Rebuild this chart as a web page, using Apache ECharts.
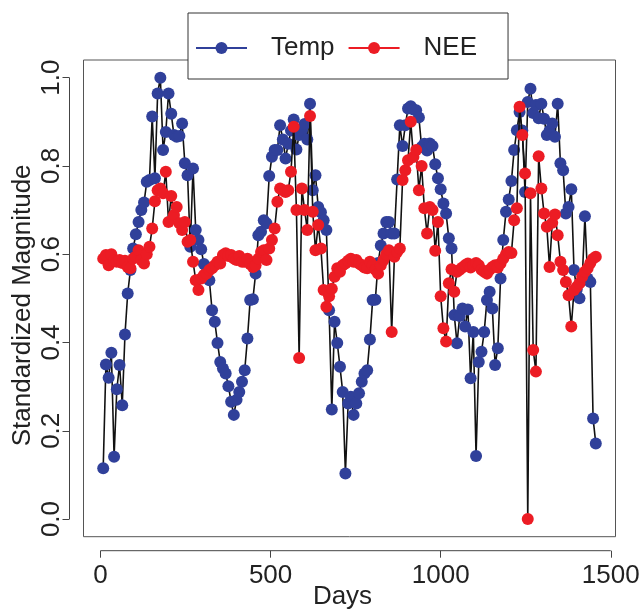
<!DOCTYPE html>
<html><head><meta charset="utf-8">
<script src="https://cdn.jsdelivr.net/npm/echarts@6/dist/echarts.min.js"></script>
<style>html,body{margin:0;padding:0;background:#fff}#c{width:640px;height:611px}</style>
</head><body><div id="c"></div>
<script>
const days = [8,16,24,32,40,48,56,64,72,80,88,96,104,112,120,128,136,144,152,160,
168,176,184,192,200,208,216,224,232,240,248,256,264,272,280,288,296,304,312,320,
328,336,344,352,360,368,376,384,392,400,408,416,424,432,440,448,456,464,472,480,
488,496,504,512,520,528,536,544,552,560,568,576,584,592,600,608,616,624,632,640,
648,656,664,672,680,688,696,704,712,720,728,736,744,752,760,768,776,784,792,800,
808,816,824,832,840,848,856,864,872,880,888,896,904,912,920,928,936,944,952,960,
968,976,984,992,1000,1008,1016,1024,1032,1040,1048,1056,1064,1072,1080,1088,1096,1104,1112,1120,
1128,1136,1144,1152,1160,1168,1176,1184,1192,1200,1208,1216,1224,1232,1240,1248,1256,1264,1272,1280,
1288,1296,1304,1312,1320,1328,1336,1344,1352,1360,1368,1376,1384,1392,1400,1408,1416,1424,1432,1440,
1448,1456];

const temp = [0.115,0.350,0.320,0.377,0.141,0.294,0.349,0.258,0.418,0.511,
0.564,0.613,0.645,0.673,0.700,0.717,0.764,0.768,0.912,0.772,
0.964,1.000,0.836,0.877,0.964,0.918,0.870,0.866,0.868,0.896,
0.806,0.779,0.617,0.794,0.655,0.632,0.611,0.578,0.571,0.541,
0.473,0.447,0.399,0.356,0.341,0.330,0.301,0.266,0.236,0.270,
0.288,0.311,0.337,0.409,0.496,0.498,0.556,0.643,0.651,0.677,
0.670,0.777,0.821,0.836,0.836,0.892,0.860,0.817,0.850,0.880,
0.905,0.837,0.870,0.881,0.895,0.860,0.941,0.745,0.779,0.707,
0.695,0.677,0.655,0.473,0.248,0.447,0.399,0.345,0.288,0.103,
0.262,0.277,0.236,0.262,0.285,0.311,0.330,0.337,0.407,0.496,
0.497,0.580,0.620,0.647,0.673,0.673,0.647,0.647,0.769,0.892,
0.845,0.892,0.930,0.935,0.928,0.926,0.910,0.843,0.850,0.835,
0.851,0.845,0.804,0.772,0.747,0.715,0.692,0.636,0.613,0.462,
0.398,0.460,0.477,0.436,0.475,0.319,0.424,0.143,0.356,0.379,
0.424,0.496,0.515,0.477,0.349,0.387,0.545,0.632,0.696,0.724,
0.766,0.836,0.881,0.922,0.880,0.741,0.945,0.975,0.920,0.938,
0.908,0.941,0.907,0.870,0.880,0.896,0.866,0.941,0.806,0.790,
0.692,0.707,0.747,0.564,0.520,0.500,0.540,0.686,0.545,0.537,
0.228,0.171];

const nee = [0.590,0.598,0.575,0.600,0.585,0.583,0.587,0.580,0.585,0.571,
0.568,0.590,0.595,0.609,0.587,0.579,0.600,0.617,0.658,0.720,
0.745,0.749,0.738,0.787,0.673,0.732,0.689,0.707,0.670,0.655,
0.673,0.628,0.632,0.583,0.541,0.519,0.545,0.553,0.556,0.564,
0.568,0.575,0.583,0.579,0.598,0.602,0.596,0.598,0.590,0.587,
0.596,0.583,0.583,0.590,0.578,0.571,0.575,0.590,0.605,0.609,
0.587,0.613,0.632,0.658,0.719,0.749,0.745,0.741,0.745,0.787,
0.889,0.700,0.365,0.749,0.700,0.655,0.913,0.696,0.609,0.666,
0.613,0.519,0.481,0.505,0.522,0.549,0.568,0.560,0.575,0.579,
0.585,0.590,0.583,0.587,0.579,0.575,0.570,0.568,0.583,0.575,
0.565,0.556,0.575,0.587,0.600,0.609,0.424,0.594,0.605,0.613,
0.768,0.790,0.813,0.900,0.820,0.836,0.745,0.800,0.704,0.647,
0.707,0.700,0.608,0.673,0.505,0.432,0.402,0.534,0.566,0.515,
0.560,0.565,0.570,0.575,0.579,0.570,0.575,0.580,0.575,0.565,
0.560,0.556,0.565,0.571,0.575,0.570,0.579,0.590,0.600,0.605,
0.603,0.677,0.704,0.934,0.870,0.783,0.000,0.738,0.383,0.334,
0.822,0.749,0.692,0.662,0.571,0.671,0.690,0.643,0.583,0.564,
0.537,0.507,0.436,0.519,0.526,0.534,0.549,0.560,0.568,0.580,
0.590,0.594];

const xTicks = [0, 500, 1000, 1500];
const yTicks = [0, 0.2, 0.4, 0.6, 0.8, 1.0];
const seriesNames = ['Temp', 'NEE'];

const FONT = '"Liberation Sans", Arial, Helvetica, sans-serif';
const BLUE = '#30409A';
const RED = '#EC1C24';
// data-range box (R style: range extended by 4%)
const X_MIN = -49.92, X_MAX = 1513.92, Y_MIN = -0.04, Y_MAX = 1.04;
const AX_OFF = 14;           // axes sit 14px outside the box
const BOX = {left: 83.5, right: 24.5, top: 60, bottom: 74.3};
const W = 640, H = 611;
const boxW = W - BOX.left - BOX.right, boxH = H - BOX.top - BOX.bottom;
// extend axis ranges so the axis lines fall AX_OFF px outside the box
const xAxMin = X_MIN - AX_OFF * (X_MAX - X_MIN) / boxW;
const yAxMin = Y_MIN - AX_OFF * (Y_MAX - Y_MIN) / boxH;

const chart = echarts.init(document.getElementById('c'), null, {renderer: 'canvas'});

const option = {
  animation: false,
  backgroundColor: '#fff',
  textStyle: {fontFamily: FONT},
  grid: {left: BOX.left - AX_OFF, right: BOX.right, top: BOX.top, bottom: BOX.bottom - AX_OFF,
    show: false, containLabel: false, outerBoundsMode: 'none'},
  xAxis: {
    type: 'value', min: xAxMin, max: X_MAX,
    name: 'Days', nameLocation: 'middle', nameGap: 33, nameMoveOverlap: false,
    nameTextStyle: {fontSize: 26, color: '#222', fontFamily: FONT},
    axisLine: {show: false, onZero: false},
    axisTick: {show: true, length: 7, customValues: xTicks, lineStyle: {color: '#444', width: 1}},
    axisLabel: {customValues: xTicks, margin: 12, fontSize: 26, color: '#222', fontFamily: FONT,
      formatter: v => String(v)},
    splitLine: {show: false}
  },
  yAxis: {
    type: 'value', min: yAxMin, max: Y_MAX,
    name: 'Standardized Magnitude', nameLocation: 'middle', nameGap: 34, nameRotate: 90, nameMoveOverlap: false,
    nameTextStyle: {fontSize: 26, color: '#222', fontFamily: FONT},
    axisLine: {show: false, onZero: false},
    axisTick: {show: true, length: 7, customValues: yTicks, lineStyle: {color: '#444', width: 1}},
    axisLabel: {customValues: yTicks, rotate: 90, margin: 5, fontSize: 26, color: '#222', fontFamily: FONT,
      formatter: v => v.toFixed(1)},
    splitLine: {show: false}
  },
  legend: {
    left: 188, top: 13,
    orient: 'horizontal',
    padding: [22, 31, 18, 7],
    itemGap: 13,
    itemWidth: 51, itemHeight: 15,
    borderColor: '#333', borderWidth: 1, backgroundColor: '#fff',
    formatter: n => '{t|' + n + '}',
    textStyle: {fontSize: 26, color: '#222', fontFamily: FONT,
      rich: {t: {fontSize: 26, color: '#222', fontFamily: FONT, padding: [0, 0, 0, 19]}}},
    data: [
      {name: seriesNames[0], itemStyle: {color: BLUE}, lineStyle: {color: BLUE, width: 2}},
      {name: seriesNames[1], itemStyle: {color: RED}, lineStyle: {color: RED, width: 2}}
    ]
  },
  series: [
    {name: seriesNames[0], type: 'line', data: days.map((d, i) => [d, temp[i]]),
      symbol: 'circle', symbolSize: 12, showSymbol: true, showAllSymbol: true,
      lineStyle: {color: '#111', width: 1.6}, itemStyle: {color: BLUE},
      emphasis: {disabled: true}, z: 2},
    {name: seriesNames[1], type: 'line', data: days.map((d, i) => [d, nee[i]]),
      symbol: 'circle', symbolSize: 12, showSymbol: true, showAllSymbol: true,
      lineStyle: {color: '#111', width: 1.6}, itemStyle: {color: RED},
      emphasis: {disabled: true}, z: 3}
  ]
};
chart.setOption(option);

// box and R-style axis lines (spanning first to last tick), from the library's scales
const px = v => chart.convertToPixel({xAxisIndex: 0}, v);
const py = v => chart.convertToPixel({yAxisIndex: 0}, v);
const bx0 = px(X_MIN), bx1 = px(X_MAX), by0 = py(Y_MAX), by1 = py(Y_MIN);
const axY = py(yAxMin), axX = px(xAxMin);
chart.setOption({
  graphic: [
    {type: 'rect', silent: true, z: 0, shape: {x: bx0, y: by0, width: bx1 - bx0, height: by1 - by0},
      style: {fill: 'none', stroke: '#555', lineWidth: 1}},
    {type: 'line', silent: true, shape: {x1: px(xTicks[0]), y1: axY, x2: px(xTicks[xTicks.length - 1]), y2: axY},
      style: {stroke: '#444', lineWidth: 1}},
    {type: 'line', silent: true, shape: {x1: axX, y1: py(yTicks[0]), x2: axX, y2: py(yTicks[yTicks.length - 1])},
      style: {stroke: '#444', lineWidth: 1}}
  ]
});
</script>
</body></html>
